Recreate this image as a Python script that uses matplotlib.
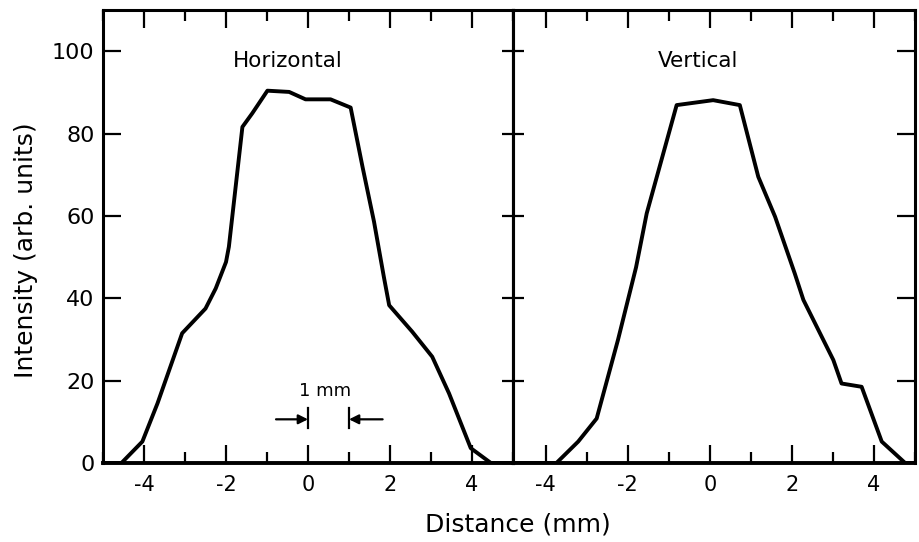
import matplotlib
matplotlib.use("Agg")
import matplotlib.pyplot as plt
from matplotlib.ticker import MultipleLocator

horiz_x = [-5.0, -4.55, -4.04, -3.67, -3.07, -2.50, -2.25, -2.0, -1.93, -1.60, -1.36,
           -0.99, -0.46, -0.06, 0.55, 1.04, 1.33, 1.61, 1.85, 1.98, 2.54, 3.03, 3.44,
           3.97, 4.46, 5.0]
horiz_y = [0.0, 0.0, 5.2, 14.5, 31.5, 37.5, 42.4, 48.8, 52.5, 81.6, 84.9,
           90.4, 90.1, 88.3, 88.3, 86.3, 71.9, 58.6, 45.2, 38.3, 31.9, 25.8, 16.9,
           3.6, 0.0, 0.0]

vert_x = [-4.8, -3.74, -3.21, -2.76, -2.24, -1.80, -1.54, -0.81, 0.08, 0.73, 1.18,
          1.59, 2.07, 2.28, 3.01, 3.21, 3.70, 4.19, 4.76, 5.0]
vert_y = [0.0, 0.0, 5.2, 10.8, 29.9, 47.5, 60.6, 86.9, 88.1, 86.9, 69.5,
          59.8, 46.0, 39.6, 25.0, 19.3, 18.5, 5.2, 0.0, 0.0]

panel_titles = ["Horizontal", "Vertical"]
x_ticks = [-4, -2, 0, 2, 4]
y_ticks = [0, 20, 40, 60, 80, 100]

fig = plt.figure(figsize=(9.19, 5.42), dpi=100)
ax1 = fig.add_axes([0.1121, 0.1458, 0.4461, 0.8358])
ax2 = fig.add_axes([0.5582, 0.1458, 0.4374, 0.8358])

line_kw = dict(color="black", lw=2.8, solid_joinstyle="round")
ax1.plot(horiz_x, horiz_y, **line_kw)
ax2.plot(vert_x, vert_y, **line_kw)

ax1.set_xlim(-5.0, 5.0)
ax2.set_xlim(-4.8, 5.0)

for ax in (ax1, ax2):
    ax.set_ylim(0, 110)
    ax.set_xticks(x_ticks)
    ax.set_xticklabels([str(t) for t in x_ticks])
    ax.xaxis.set_minor_locator(MultipleLocator(1))
    ax.set_yticks(y_ticks)
    for sp in ax.spines.values():
        sp.set_linewidth(2.2)
    ax.spines["bottom"].set_linewidth(2.8)
    ax.tick_params(axis="x", which="major", direction="in", length=13, width=1.6,
                   top=True, labelsize=15, pad=9)
    ax.tick_params(axis="x", which="minor", direction="in", length=8, width=1.6,
                   top=True)

ax1.tick_params(axis="y", which="major", direction="in", length=13, width=1.6,
                labelsize=16, pad=6, right=False)
ax2.tick_params(axis="y", which="major", direction="in", length=13, width=1.6,
                left=False, right=True, labelleft=False)

# crossing ticks on the shared boundary between the panels
mid = ax2.secondary_yaxis("left")
mid.set_yticks(y_ticks)
mid.tick_params(axis="y", direction="inout", length=16, width=1.6, labelleft=False)
mid.spines["left"].set_linewidth(2.2)

ax1.text(-0.5, 97.5, panel_titles[0], ha="center", va="center", fontsize=15.5)
ax2.text(-0.3, 97.5, panel_titles[1], ha="center", va="center", fontsize=15.5)

# 1 mm scale marker
ax1.text(0.42, 17.5, "1 mm", ha="center", va="center", fontsize=13)
ax1.plot([0, 0], [8.5, 13.3], color="black", lw=1.6)
ax1.plot([1, 1], [8.5, 13.3], color="black", lw=1.6)
ax1.annotate("", xy=(0, 10.6), xytext=(-0.78, 10.6),
             arrowprops=dict(arrowstyle="-|>", color="black", lw=1.6, mutation_scale=14,
                             shrinkA=0, shrinkB=0))
ax1.annotate("", xy=(1, 10.6), xytext=(1.82, 10.6),
             arrowprops=dict(arrowstyle="-|>", color="black", lw=1.6, mutation_scale=14,
                             shrinkA=0, shrinkB=0))

fig.text(0.028, 0.539, "Intensity (arb. units)", rotation=90, ha="center", va="center",
         fontsize=18)
fig.text(0.563, 0.033, "Distance (mm)", ha="center", va="center", fontsize=18)

fig.savefig("out.png", dpi=100)
